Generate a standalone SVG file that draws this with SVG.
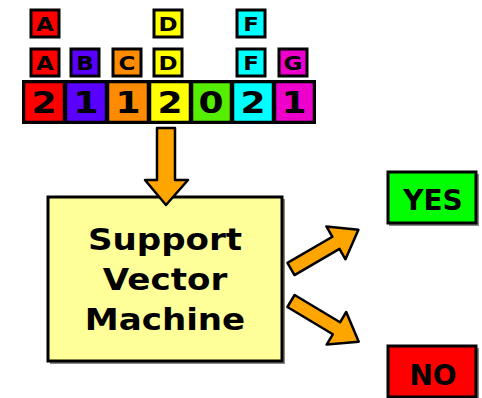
<svg xmlns="http://www.w3.org/2000/svg" width="482" height="398" viewBox="0 0 482 398">
  <style>
    .lbl { font-family: "DejaVu Sans", "Liberation Sans", sans-serif; font-weight: bold; fill: #000; text-anchor: middle; }
    .tag rect { stroke: #000; stroke-width: 3; }
    .tag text { font-size: 20px; }
    .cell rect { stroke: #000; stroke-width: 2.5; }
    .cell text { font-size: 30px; }
    .big { font-size: 31px; }
    .arrow { fill: #ffa500; stroke: #000; stroke-width: 2.5; stroke-linejoin: round; }
    .shadow { fill: #888; }
  </style>
  <rect width="482" height="398" fill="#fff"/>

  <!-- upper tags -->
  <g id="tag-A-top" class="tag"><rect x="31" y="10" width="28" height="27" fill="#ff0000"/><text class="lbl" transform="translate(45,31) scale(1.15,1)">A</text></g>
  <g id="tag-D-top" class="tag"><rect x="154" y="10" width="28" height="27" fill="#ffff00"/><text class="lbl" transform="translate(168,31) scale(1.15,1)">D</text></g>
  <g id="tag-F-top" class="tag"><rect x="237" y="10" width="28" height="27" fill="#00ffff"/><text class="lbl" transform="translate(251,31) scale(1.15,1)">F</text></g>

  <!-- lower tags -->
  <g id="tag-A" class="tag"><rect x="31" y="49" width="28" height="27" fill="#ff0000"/><text class="lbl" transform="translate(45,70) scale(1.15,1)">A</text></g>
  <g id="tag-B" class="tag"><rect x="71" y="49" width="28" height="27" fill="#5a00ff"/><text class="lbl" transform="translate(85,70) scale(1.15,1)">B</text></g>
  <g id="tag-C" class="tag"><rect x="113" y="49" width="28" height="27" fill="#ff8c00"/><text class="lbl" transform="translate(127,70) scale(1.15,1)">C</text></g>
  <g id="tag-D" class="tag"><rect x="154" y="49" width="28" height="27" fill="#ffff00"/><text class="lbl" transform="translate(168,70) scale(1.15,1)">D</text></g>
  <g id="tag-F" class="tag"><rect x="237" y="49" width="28" height="27" fill="#00ffff"/><text class="lbl" transform="translate(251,70) scale(1.15,1)">F</text></g>
  <g id="tag-G" class="tag"><rect x="279" y="49" width="28" height="27" fill="#ee00cc"/><text class="lbl" transform="translate(293,70) scale(1.15,1)">G</text></g>

  <!-- count strip -->
  <g id="strip">
    <rect x="22" y="80" width="294" height="44" fill="#000"/>
    <g class="cell"><rect x="24" y="82" width="40" height="40" fill="#ff0000"/><text class="lbl" transform="translate(44,113) scale(1.2,1)">2</text></g>
    <g class="cell"><rect x="66" y="82" width="40" height="40" fill="#5a00ff"/><text class="lbl" transform="translate(86,113) scale(1.2,1)">1</text></g>
    <g class="cell"><rect x="108" y="82" width="40" height="40" fill="#ff8c00"/><text class="lbl" transform="translate(128,113) scale(1.2,1)">1</text></g>
    <g class="cell"><rect x="150" y="82" width="40" height="40" fill="#ffff00"/><text class="lbl" transform="translate(170,113) scale(1.2,1)">2</text></g>
    <g class="cell"><rect x="192" y="82" width="39" height="40" fill="#55ee00"/><text class="lbl" transform="translate(211,113) scale(1.2,1)">0</text></g>
    <g class="cell"><rect x="233" y="82" width="40" height="40" fill="#00ffff"/><text class="lbl" transform="translate(253,113) scale(1.2,1)">2</text></g>
    <g class="cell"><rect x="275" y="82" width="39" height="40" fill="#ee00cc"/><text class="lbl" transform="translate(294,113) scale(1.2,1)">1</text></g>
  </g>

  <!-- classifier -->
  <g id="svm">
    <rect class="shadow" x="50" y="199" width="235" height="165"/>
    <rect x="48" y="197" width="234" height="164" fill="#ffff99" stroke="#000" stroke-width="3"/>
    <text class="lbl big" transform="translate(165,250) scale(1.1,1)">Support</text>
    <text class="lbl big" transform="translate(165,290) scale(1.1,1)">Vector</text>
    <text class="lbl big" transform="translate(165,330) scale(1.1,1)">Machine</text>
  </g>

  <!-- outcomes -->
  <g id="yes">
    <rect class="shadow" x="389" y="174" width="90" height="52"/>
    <rect x="388" y="172" width="88" height="51" fill="#00ff00" stroke="#000" stroke-width="3"/>
    <text class="lbl" x="433" y="210" font-size="28">YES</text>
  </g>
  <g id="no">
    <rect class="shadow" x="389" y="348" width="90" height="52"/>
    <rect x="388" y="346" width="88" height="51" fill="#ff0000" stroke="#000" stroke-width="3"/>
    <text class="lbl" x="433" y="385" font-size="28">NO</text>
  </g>

  <!-- connectors -->
  <g id="connectors">
    <polygon class="arrow" points="157,128 175,128 175,180 188,180 166,205 145,180 157,180"/>
    <polygon class="arrow" transform="translate(291,269) rotate(-30.2)" points="0,-7 52,-7 52,-19 78,0 52,19 52,7 0,7"/>
    <polygon class="arrow" transform="translate(291,301) rotate(31)" points="0,-7 53,-7 53,-19 79,0 53,19 53,7 0,7"/>
  </g>
</svg>
